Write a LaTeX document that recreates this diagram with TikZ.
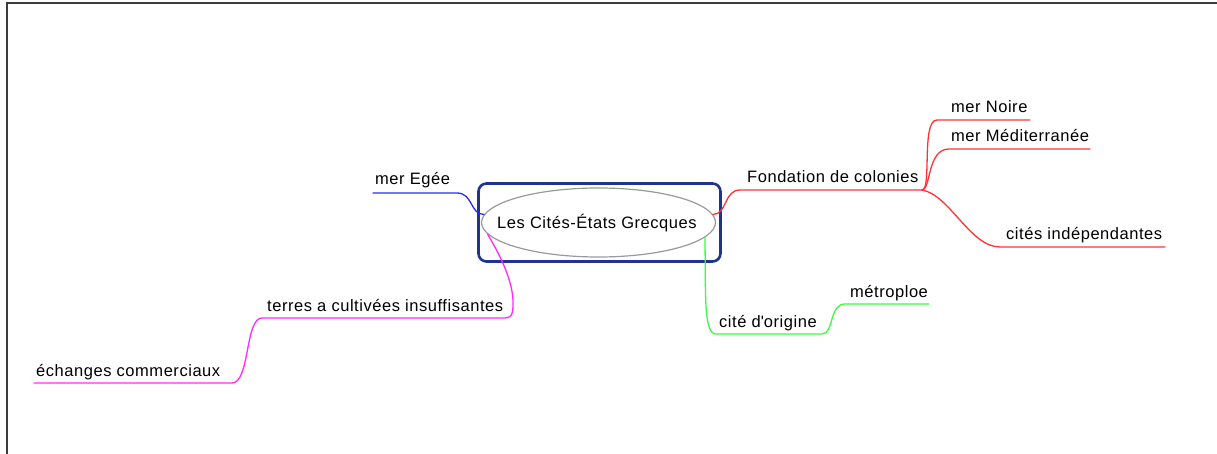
\documentclass[tikz,border=0pt]{standalone}
\usepackage{fontspec}
\setmainfont[LetterSpace=3.3]{Liberation Sans}
\usetikzlibrary{shapes.geometric}
\definecolor{navy}{RGB}{31,52,140}
\definecolor{ebranch}{RGB}{40,40,255}
\definecolor{rbranch}{RGB}{255,50,50}
\definecolor{gbranch}{RGB}{60,250,60}
\definecolor{mbranch}{RGB}{255,40,255}
\definecolor{framegray}{RGB}{60,60,60}
\begin{document}
\begin{tikzpicture}[x=1pt,y=1pt,
  lbl/.style={anchor=base west,inner sep=0pt,font=\fontsize{16.5}{18}\selectfont},
  branch/.style={line width=1.3pt,line cap=round}]
\useasboundingbox (0,0) rectangle (1217,-454);
% outer frame
\draw[framegray,line width=2pt] (7,-454) -- (7,-3) -- (1217,-3);
% central topic
\node[draw=navy,line width=2.6pt,rounded corners=8pt,minimum width=242pt,minimum height=78pt,inner sep=0pt] (box) at (599.5,-222.5) {};
\node[ellipse,draw=gray!80,line width=1.2pt,minimum width=234pt,minimum height=69pt,inner sep=0pt] (center) at (598.5,-222.5) {};
\node[lbl] (ctext) at (497,-229) {Les Cités-États Grecques};
% labels
\node[lbl] (egee) at (375,-185) {mer Egée};
\node[lbl] (fond) at (747,-183) {Fondation de colonies};
\node[lbl] (noire) at (951,-113) {mer Noire};
\node[lbl] (medi) at (951,-142) {mer Méditerranée};
\node[lbl] (indep) at (1006,-240) {cités indépendantes};
\node[lbl] (origine) at (719,-327) {cité d\textquotesingle origine};
\node[lbl] (metro) at (850,-297) {métroploe};
\node[lbl] (terres) at (267,-311) {terres a cultivées insuffisantes};
\node[lbl] (echanges) at (36,-376) {échanges commerciaux};
% coordinates of branch ends
\coordinate (b0) at (373,-193);
\coordinate (b1) at (457,-193);
\coordinate (r0) at (740,-190);
\coordinate (r1) at (922,-190);
\coordinate (rn0) at (947,-120);
\coordinate (rn1) at (1030,-120);
\coordinate (rm0) at (949,-149);
\coordinate (rm1) at (1090,-149);
\coordinate (ri0) at (1000,-247);
\coordinate (ri1) at (1165,-247);
\coordinate (g0) at (716,-334);
\coordinate (g1) at (822,-334);
\coordinate (g2) at (845,-304);
\coordinate (g3) at (929,-304);
\coordinate (m0) at (505,-318);
\coordinate (m1) at (262,-318);
\coordinate (m2) at (232,-383);
\coordinate (m3) at (34,-383);
% blue
\draw[branch,ebranch] (center.176) .. controls +(-14,0) and +(16,0) .. (b1) -- (b0);
% red
\draw[branch,rbranch] (center.4) .. controls +(14,0) and +(-16,0) .. (r0) -- (r1);
\draw[branch,rbranch] (r1) .. controls +(10,0) and +(-16,0) .. ([xshift=-10]rn0) -- (rn0) -- (rn1);
\draw[branch,rbranch] (r1) .. controls (931,-190) and (927,-149) .. (rm0) -- (rm1);
\draw[branch,rbranch] (r1) .. controls (950,-195) and (970,-247) .. (ri0) -- (ri1);
% green
\draw[branch,gbranch] (center.-8.5) .. controls (706,-290) and (703,-334) .. (g0) -- (g1) .. controls (834,-334) and (829,-304) .. (g2) -- (g3);
% magenta
\draw[branch,mbranch] (center.186) .. controls (497,-250) and (514,-280) .. (513,-305) .. controls (513,-316) and (510,-318) .. (m0) -- (m1) .. controls (245,-318) and (250,-383) .. (m2) -- (m3);
\end{tikzpicture}
\end{document}
